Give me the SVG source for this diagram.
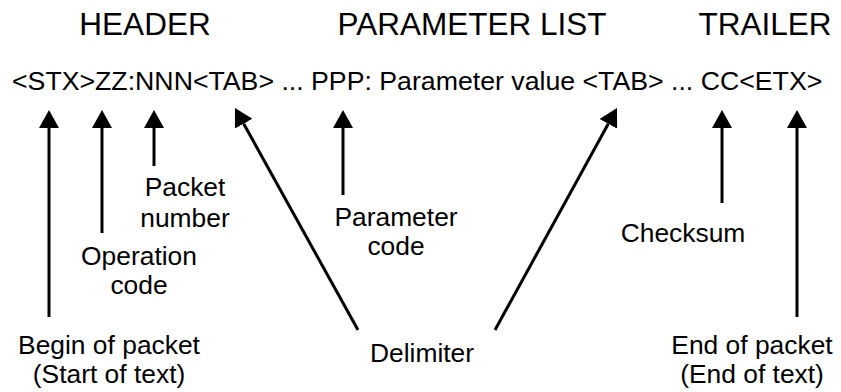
<svg xmlns="http://www.w3.org/2000/svg" width="841" height="392" viewBox="0 0 841 392">
<defs>
<style>
text{font-family:"Liberation Sans",Arial,Helvetica,sans-serif;fill:#000}
.title{font-size:31.5px;text-anchor:middle}
.code{font-size:26.7px}
.lbl{font-size:26.4px;text-anchor:middle}
.arr{stroke:#000;stroke-width:3;fill:none;marker-end:url(#ah)}
</style>
<marker id="ah" markerUnits="userSpaceOnUse" markerWidth="19" markerHeight="20" refX="0" refY="10" orient="auto" viewBox="0 0 19 20">
<path d="M0,0 L18,10 L0,20 Z" fill="#000"/>
</marker>
</defs>
<rect width="841" height="392" fill="#fff"/>
<g id="titles">
<text class="title" x="145" y="35">HEADER</text>
<text class="title" x="472" y="35">PARAMETER LIST</text>
<text class="title" x="765" y="35">TRAILER</text>
</g>
<g id="packet">
<text class="code" x="12" y="90">&lt;STX&gt;ZZ:NNN&lt;TAB&gt; ... PPP: Parameter value &lt;TAB&gt; ... CC&lt;ETX&gt;</text>
</g>
<g id="connectors">
<path class="arr" d="M49,317 L49,128"/>
<path class="arr" d="M102,233 L102,128"/>
<path class="arr" d="M154,166 L154,128"/>
<path class="arr" d="M358,330 L243.7,123.7"/>
<path class="arr" d="M343,195 L343,128"/>
<path class="arr" d="M495,330 L608.3,123.8"/>
<path class="arr" d="M722,203 L722,128"/>
<path class="arr" d="M797,317 L797,128"/>
</g>
<g id="packet-number"><text class="lbl" x="185" y="196">Packet</text><text class="lbl" x="185" y="227">number</text></g>
<g id="operation-code"><text class="lbl" x="139" y="265">Operation</text><text class="lbl" x="139" y="294">code</text></g>
<g id="begin-of-packet"><text class="lbl" x="109" y="354">Begin of packet</text><text class="lbl" x="109" y="383">(Start of text)</text></g>
<g id="parameter-code"><text class="lbl" x="396" y="226">Parameter</text><text class="lbl" x="396" y="255">code</text></g>
<g id="delimiter"><text class="lbl" x="422" y="362">Delimiter</text></g>
<g id="checksum"><text class="lbl" x="683" y="242">Checksum</text></g>
<g id="end-of-packet"><text class="lbl" x="752" y="354">End of packet</text><text class="lbl" x="752" y="383">(End of text)</text></g>
</svg>
